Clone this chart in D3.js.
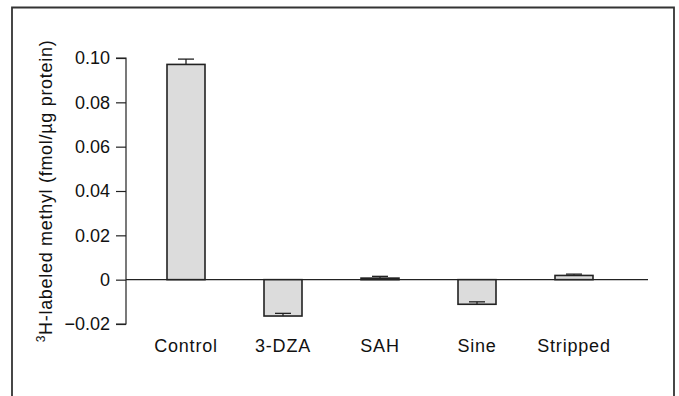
<!DOCTYPE html>
<html>
<head>
<meta charset="utf-8">
<script src="https://cdn.jsdelivr.net/npm/d3@7"></script>
<style>
  body { margin: 0; background: #fff; }
  svg { display: block; font-family: "Liberation Sans", Arial, sans-serif; }
</style>
</head>
<body>
<div id="chart"></div>
<script>
// values
const categories = ["Control", "3-DZA", "SAH", "Sine", "Stripped"];
const values = [0.0971, -0.0164, 0.0007, -0.0111, 0.0019];
const errors = [0.0024, 0.0012, 0.0008, 0.0011, 0.0006];
const yTicks = [-0.02, 0, 0.02, 0.04, 0.06, 0.08, 0.10];

const data = categories.map((c, i) => ({ cat: c, value: values[i], err: errors[i] }));

const svg = d3.select("#chart").append("svg")
    .attr("width", 679)
    .attr("height", 396);

// outer frame (open at the bottom)
svg.append("path")
    .attr("d", "M12,400 L12,7.5 L674,7.5 L674,400")
    .attr("fill", "none")
    .attr("stroke", "#333")
    .attr("stroke-width", 1.8);

const y = d3.scaleLinear().domain([-0.02, 0.10]).range([324, 58]);
const x = d3.scalePoint().domain(categories).range([186, 574]);
const barW = 38;

// y axis
const yAxis = svg.append("g")
    .attr("transform", "translate(126,0)")
    .call(d3.axisLeft(y).tickValues(yTicks).tickSize(10).tickPadding(6)
        .tickFormat(d => d === 0 ? "0" : d3.format(".2f")(d).replace("-", "\u2013")));
yAxis.select(".domain").attr("d", `M-10,${y(0.10)}H0V${y(-0.02)}H-10`).attr("stroke", "#222").attr("stroke-width", 1.2);
yAxis.selectAll(".tick line").attr("stroke", "#222").attr("stroke-width", 1.2);
yAxis.selectAll(".tick text").attr("font-size", 18).attr("fill", "#111");

// zero line
svg.append("line")
    .attr("x1", 126).attr("x2", 648)
    .attr("y1", y(0)).attr("y2", y(0))
    .attr("stroke", "#222").attr("stroke-width", 1.2);

// bars
svg.selectAll(".bar")
    .data(data)
    .enter().append("rect")
    .attr("class", "bar")
    .attr("x", d => x(d.cat) - barW / 2)
    .attr("width", barW)
    .attr("y", d => y(Math.max(0, d.value)))
    .attr("height", d => Math.abs(y(d.value) - y(0)))
    .attr("fill", "#dcdcdc")
    .attr("stroke", "#222")
    .attr("stroke-width", 1.6);

// error bars (drawn from the bar end, upward)
const eb = svg.selectAll(".err")
    .data(data)
    .enter().append("g")
    .attr("class", "err")
    .attr("stroke", "#222")
    .attr("stroke-width", 1.3);
eb.append("line")
    .attr("x1", d => x(d.cat)).attr("x2", d => x(d.cat))
    .attr("y1", d => y(d.value)).attr("y2", d => y(d.value + d.err));
eb.append("line")
    .attr("x1", d => x(d.cat) - 8).attr("x2", d => x(d.cat) + 8)
    .attr("y1", d => y(d.value + d.err)).attr("y2", d => y(d.value + d.err));

// category labels
svg.selectAll(".cat")
    .data(categories)
    .enter().append("text")
    .attr("x", d => x(d))
    .attr("y", 352)
    .attr("text-anchor", "middle")
    .attr("font-size", 18)
    .attr("letter-spacing", 0.8)
    .attr("fill", "#111")
    .text(d => d);

// y label
const yl = svg.append("text")
    .attr("transform", "translate(52,191) rotate(-90)")
    .attr("text-anchor", "middle")
    .attr("font-size", 18)
    .attr("letter-spacing", 0.7)
    .attr("fill", "#111");
yl.append("tspan").attr("font-size", 12).attr("dy", -7).text("3");
yl.append("tspan").attr("dy", 7).text("H-labeled methyl (fmol/\u00b5g protein)");
</script>
</body>
</html>
